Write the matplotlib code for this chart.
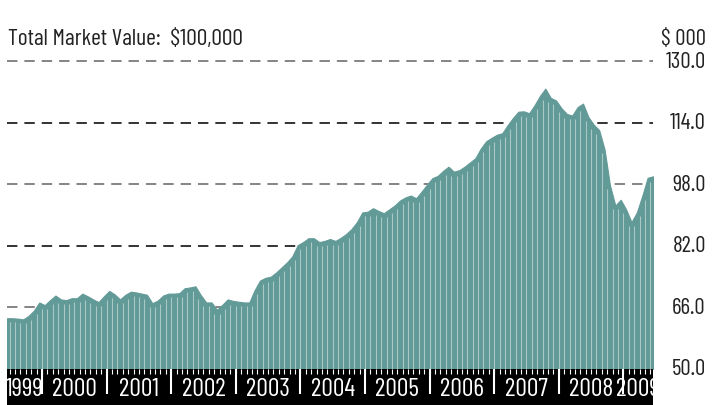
import numpy as np
import matplotlib
matplotlib.use("Agg")
import matplotlib.pyplot as plt

plt.rcParams['font.family'] = ['Barlow Condensed', 'DejaVu Sans']
plt.rcParams['lines.scale_dashes'] = False

# monthly total market value ($ 000), mid-1999 .. mid-2009
values = [63.2, 63.2, 63.1, 62.9, 63.8, 65.2, 67.3, 66.6, 67.9, 69.1,
          68.1, 67.9, 68.4, 68.4, 69.6, 68.9, 68.1, 67.4, 68.9, 70.3,
          69.4, 68.1, 69.3, 70.1, 69.9, 69.6, 69.3, 67.1, 67.8, 69.1,
          69.6, 69.6, 69.7, 71.0, 71.2, 71.5, 69.2, 67.3, 67.3, 65.4,
          66.7, 68.1, 67.7, 67.5, 67.3, 67.3, 70.5, 73.0, 73.7, 74.0,
          75.1, 76.4, 77.7, 79.3, 82.2, 83.0, 84.0, 84.0, 83.0, 83.3,
          83.8, 83.3, 84.1, 85.1, 86.4, 88.2, 90.7, 90.9, 91.8, 91.1,
          90.5, 91.5, 92.5, 93.8, 94.6, 95.1, 94.4, 96.1, 97.9, 99.6,
          100.2, 101.5, 102.6, 101.3, 101.7, 102.6, 103.7, 104.8, 107.3, 109.2,
          110.1, 110.9, 111.3, 113.4, 115.3, 116.9, 117.0, 116.5, 118.6, 121.0,
          122.9, 120.5, 119.8, 117.8, 116.3, 115.9, 118.1, 119.0, 115.5, 113.5,
          112.1, 107.1, 97.8, 92.5, 94.0, 91.5, 88.2, 90.7, 95.0, 99.7,
          100.1]
start_year = 1999 + 5.5 / 12
years = [1999, 2000, 2001, 2002, 2003, 2004, 2005, 2006, 2007, 2008, 2009]
y_ticks = [50.0, 66.0, 82.0, 98.0, 114.0, 130.0]
title = "Total Market Value:  $100,000"
unit = "$ 000"

W, H = 723, 406
FS = 16.5
t = start_year + np.arange(len(values)) / 12.0
v = np.array(values)
x0, x1 = t[0], t[-1]

fig = plt.figure(figsize=(W / 100, H / 100), dpi=100)
fig.patch.set_facecolor('white')

ax = fig.add_axes([7 / W, 36 / H, 646 / W, (370 - 62.3) / H])
ax.set_xlim(x0, x1)
ax.set_ylim(50, 130)
ax.axis('off')

teal = '#629a97'
grid_cols = {130.0: '#707070', 114.0: '#111111', 98.0: '#707070',
             82.0: '#111111', 66.0: '#707070'}
for yv in y_ticks[1:]:
    ax.plot([x0, x1], [yv, yv], color=grid_cols[yv], lw=1.2,
            dashes=(7.5, 5), zorder=1, clip_on=False)

ax.fill_between(t, 50, v, color=teal, lw=0.8, edgecolor=teal, zorder=2)

# light separators between the monthly bars
mid = (t[:-1] + t[1:]) / 2
top = np.minimum(v[:-1], v[1:]) - 1.0
ax.vlines(mid, 50, top, color='#a9c9c7', lw=0.8, zorder=3)

# value labels on the right
for yv in y_ticks:
    ax.annotate(f"{yv:.1f}", xy=(1, yv), xycoords=('axes fraction', 'data'),
                xytext=(38, 0), textcoords='offset points', ha='right',
                va='center', fontsize=FS, color='#222222', annotation_clip=False)

fig.text(8 / W, 1 - 45 / H, title, ha='left', va='baseline',
         fontsize=17, color='#222222')
fig.text(706 / W, 1 - 45 / H, unit, ha='right', va='baseline',
         fontsize=FS, color='#222222')

# black date band
ax2 = fig.add_axes([7 / W, 0, 646 / W, 36 / H])
ax2.set_facecolor('black')
ax2.set_xlim(x0, x1)
ax2.set_ylim(0, 36)
for s in ax2.spines.values():
    s.set_visible(False)
ax2.set_xticks([])
ax2.set_yticks([])

months = np.arange(np.ceil(x0 * 12), np.floor(x1 * 12) + 1) / 12.0
ax2.vlines(months, 31, 36, color='white', lw=0.8)
ax2.vlines(years[1:], 11, 36, color='white', lw=1.5)
for yr in years:
    a = max(yr, x0)
    b = min(yr + 1, x1)
    ax2.text((a + b) / 2, 9.5, str(yr), ha='center', va='baseline',
             fontsize=18.5, color='white', clip_on=True)

fig.savefig('out.png', dpi=100)
